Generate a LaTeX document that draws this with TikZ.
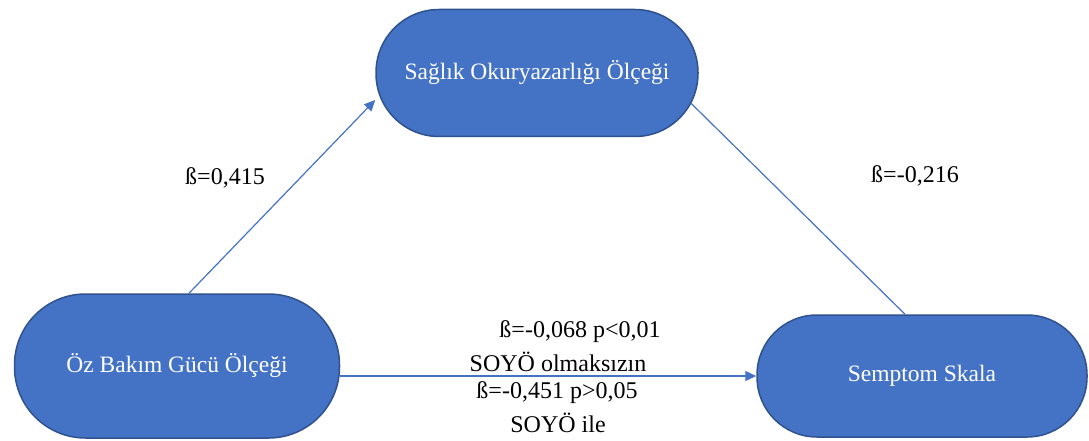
\documentclass[tikz,border=0pt]{standalone}
\usepackage{fontspec}
\setmainfont{Liberation Serif}
\usetikzlibrary{arrows.meta,calc}
\definecolor{boxblue}{HTML}{4472C4}
\definecolor{boxedge}{HTML}{2F528F}
\begin{document}
\begin{tikzpicture}[x=1pt,y=-1pt,
  pill/.style={rectangle,draw=boxedge,line width=1.5pt,fill=boxblue,text=white,
    inner sep=0pt,font=\fontsize{23.5}{28}\selectfont},
  conn/.style={draw=boxblue,line width=1.2pt},
  lbl/.style={font=\fontsize{24}{28}\selectfont,inner sep=0pt,text=black},
  tip/.style={-{Triangle[length=11pt,width=10pt]}}]
\useasboundingbox (0,0) rectangle (1089,441);
\node[pill,minimum width=322pt,minimum height=127pt,rounded corners=63pt] (sol) at (537,73) {Sağlık Okuryazarlığı Ölçeği};
\node[pill,minimum width=325pt,minimum height=144pt,rounded corners=71pt] (ozb) at (177,366) {Öz Bakım Gücü Ölçeği};
\node[pill,minimum width=330pt,minimum height=122pt,rounded corners=60pt] (sem) at (922,376) {Semptom Skala};
\draw[conn,tip] ([xshift=12pt]ozb.north) -- ([yshift=-27pt]sol.west);
\draw[conn] ([shift={(-8pt,-30pt)}]sol.east) -- ([xshift=-17pt]sem.north);
\draw[conn,tip] (ozb.east |- sem.west) -- (sem.west);
\node[lbl] (l1) at (225,178) {ß=0,415};
\node[lbl] (l2) at (915,176) {ß=-0,216};
\node[lbl] (l3) at (580,332) {ß=-0,068 p<0,01};
\node[lbl] (l4) at (558,362) {SOYÖ olmaksızın};
\node[lbl] (l5) at (557,393) {ß=-0,451 p>0,05};
\node[lbl] (l6) at (558,423) {SOYÖ ile};
\end{tikzpicture}
\end{document}
